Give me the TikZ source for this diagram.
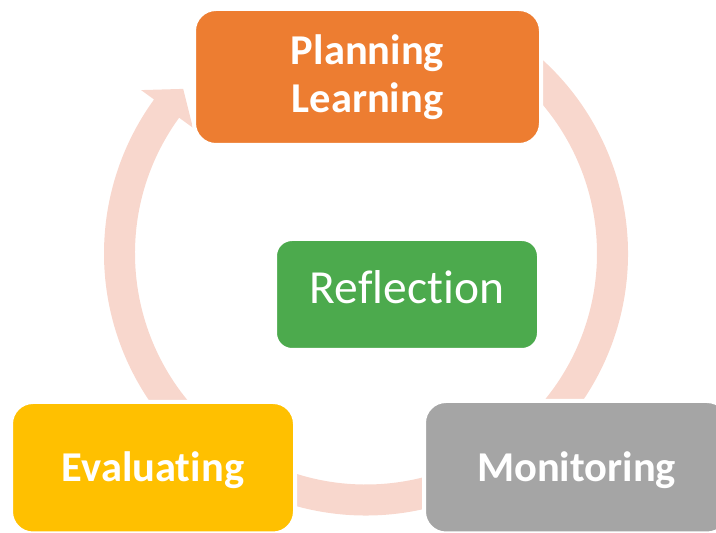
\documentclass[tikz,border=0pt]{standalone}
\usepackage{fontspec}
\setmainfont{Carlito}[Ligatures=NoCommon]
\definecolor{ringc}{HTML}{F8D7CD}
\definecolor{orangec}{HTML}{ED7D31}
\definecolor{greenc}{HTML}{4CAA4D}
\definecolor{yellowc}{HTML}{FFC000}
\definecolor{grayc}{HTML}{A5A5A5}
\begin{document}
\begin{tikzpicture}[x=1pt,y=1pt,
  box/.style={rectangle, rounded corners=22pt, draw=white, line width=4pt,
    text=white, inner sep=0pt, align=center},
  boldtxt/.style={font=\fontsize{42.5}{48}\selectfont\bfseries},
  ring/.style={fill=ringc}]
\useasboundingbox (0,0) rectangle (716,533);
\clip (0,0) rectangle (716,533);
% cycle ring with arrowhead
\fill[ring, shift={(366,279.5)}]
  (55:262) arc[start angle=55, end angle=-216, radius=262]
  -- (-216:278) -- (-222:246) -- (-216:214) -- (-216:231)
  arc[start angle=-216, end angle=55, radius=231] -- cycle;
% boxes
\node[box, boldtxt, fill=orangec, minimum width=347pt, minimum height=136pt]
  (plan) at (367.5,456) {Planning\\Learning};
\node[box, fill=greenc, rounded corners=17pt, minimum width=264pt, minimum height=111pt,
  font=\fontsize{47.5}{52}\selectfont, text height=30pt, text depth=12.4pt]
  (refl) at (407,238.5) {Reflection};
\node[box, boldtxt, fill=yellowc, minimum width=284pt, minimum height=131.5pt,
  text height=36pt, text depth=8.1pt]
  (eval) at (153,65.25) {Evaluating};
\node[box, boldtxt, fill=grayc, minimum width=305pt, minimum height=132.5pt,
  text height=37pt, text depth=8.1pt]
  (moni) at (576.5,65.75) {Monitoring};
\end{tikzpicture}
\end{document}
